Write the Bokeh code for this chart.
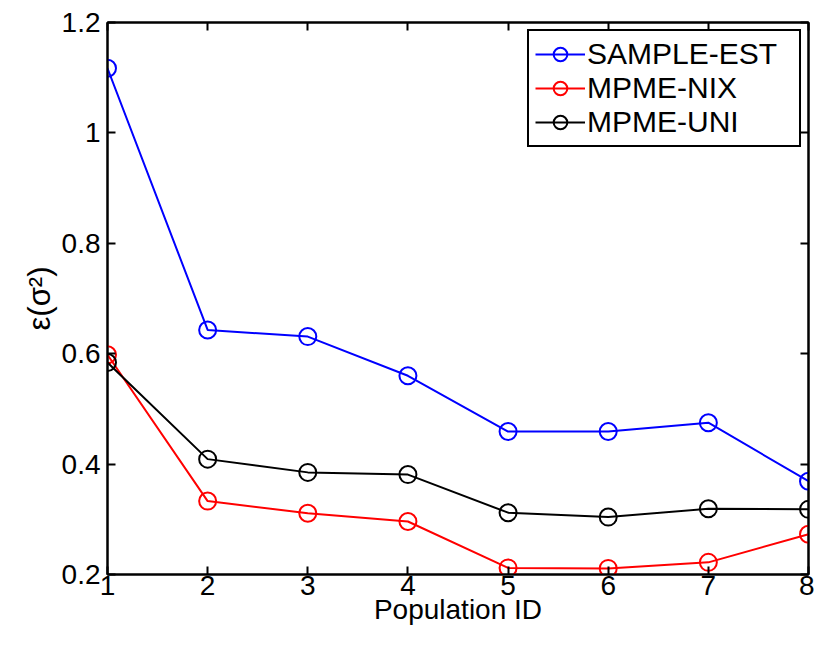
from bokeh.plotting import figure
from bokeh.models import LinearAxis, Range1d, FixedTicker, Legend, LegendItem
from bokeh.embed import file_html
from bokeh.resources import INLINE

population = [1, 2, 3, 4, 5, 6, 7, 8]
sample_est = [1.117, 0.643, 0.631, 0.560, 0.459, 0.459, 0.475, 0.369]
mpme_nix = [0.598, 0.333, 0.311, 0.296, 0.212, 0.211, 0.222, 0.273]
mpme_uni = [0.584, 0.409, 0.385, 0.381, 0.312, 0.304, 0.319, 0.318]
x_ticks = [1, 2, 3, 4, 5, 6, 7, 8]
y_ticks = [0.2, 0.4, 0.6, 0.8, 1.0, 1.2]

FONT = "Liberation Sans"
TICK_FS = "28px"

p = figure(width=814, height=634, output_backend="svg", toolbar_location=None,
           x_range=Range1d(1, 8), y_range=Range1d(0.2, 1.2),
           min_border_left=107, min_border_right=6, min_border_top=22,
           min_border_bottom=60, background_fill_color="white",
           border_fill_color="white")
p.grid.visible = False
p.outline_line_color = "black"
p.outline_line_width = 2

def style_axis(ax, labels=True):
    ax.axis_line_width = 2
    ax.axis_line_color = "black"
    ax.major_tick_in = 8
    ax.major_tick_out = 0
    ax.major_tick_line_width = 2
    ax.major_tick_line_color = "black"
    ax.minor_tick_line_color = None
    ax.major_label_text_font = FONT
    ax.major_label_text_font_size = TICK_FS
    ax.major_label_text_color = "black"
    ax.axis_label_text_font = FONT
    ax.axis_label_text_font_size = TICK_FS
    ax.axis_label_text_font_style = "normal"
    ax.axis_label_text_color = "black"
    if not labels:
        ax.major_label_text_font_size = "0px"
        ax.major_label_text_color = None
        ax.major_label_standoff = 0

xa = p.xaxis[0]
xa.ticker = FixedTicker(ticks=x_ticks)
xa.axis_label = "Population ID"
style_axis(xa)
xa.major_label_standoff = 1
xa.axis_label_standoff = -4

ya = p.yaxis[0]
ya.ticker = FixedTicker(ticks=y_ticks)
ya.axis_label = "ε(σ²)"
ya.major_label_overrides = {1: "1", 1.0: "1"}
style_axis(ya)
ya.axis_label_text_font_size = "31px"
ya.major_label_standoff = 7
ya.axis_label_standoff = 2

top = LinearAxis(ticker=FixedTicker(ticks=x_ticks))
style_axis(top, labels=False)
right = LinearAxis(ticker=FixedTicker(ticks=y_ticks))
style_axis(right, labels=False)
p.add_layout(top, "above")
p.add_layout(right, "right")

series = [("SAMPLE-EST", sample_est, "#0000ff"),
          ("MPME-NIX", mpme_nix, "#ff0000"),
          ("MPME-UNI", mpme_uni, "#000000")]
items = []
for name, vals, col in series:
    l = p.line(population, vals, line_color=col, line_width=2)
    c = p.scatter(population, vals, marker="circle", size=17, fill_color=None,
                  line_color=col, line_width=2)
    items.append(LegendItem(label=name, renderers=[l, c]))

legend = Legend(items=items, location="top_right")
legend.label_text_font = FONT
legend.label_text_font_size = "30px"
legend.label_text_color = "black"
legend.border_line_color = "black"
legend.border_line_width = 2
legend.border_line_alpha = 1
legend.background_fill_alpha = 1
legend.glyph_width = 50
legend.glyph_height = 34
legend.label_height = 34
legend.label_width = 206
legend.label_standoff = 2
legend.spacing = 0
legend.padding = 6
legend.margin = 7
p.add_layout(legend)

open("out.html", "w").write(file_html(p, INLINE))
